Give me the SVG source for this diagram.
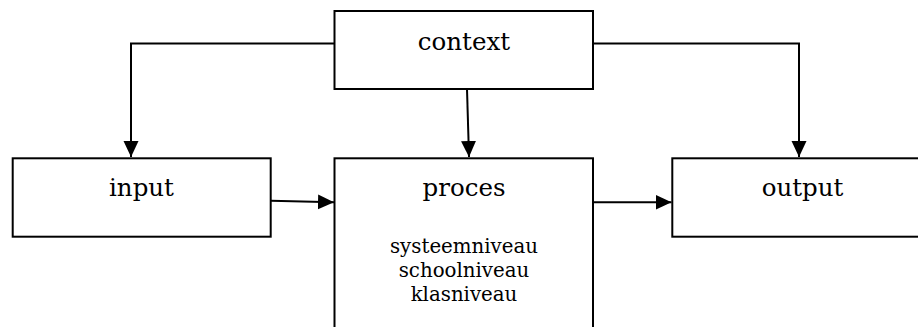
<svg xmlns="http://www.w3.org/2000/svg" width="918" height="327" viewBox="0 0 918 327">
  <style>
    .box { fill: #ffffff; stroke: #000000; stroke-width: 2; }
    .conn { fill: none; stroke: #000000; stroke-width: 2; }
    .lbl { font-family: "DejaVu Serif", "Liberation Serif", serif; font-size: 24.5px; fill: #000000; text-anchor: middle; }
    .sub { font-family: "DejaVu Serif", "Liberation Serif", serif; font-size: 19.8px; fill: #000000; text-anchor: middle; }
  </style>
  <defs>
    <marker id="arrow" markerUnits="userSpaceOnUse" markerWidth="16" markerHeight="16" refX="16" refY="8" orient="auto">
      <path d="M0,0.5 L16,8 L0,15.5 Z" fill="#000000"/>
    </marker>
  </defs>
  <rect width="918" height="327" fill="#ffffff"/>
  <g id="context">
    <rect class="box" x="334.5" y="11" width="258.5" height="78"/>
    <text class="lbl" x="464" y="50">context</text>
  </g>
  <g id="input">
    <rect class="box" x="12.7" y="158.3" width="258" height="78.4"/>
    <text class="lbl" x="141.5" y="195.5">input</text>
  </g>
  <g id="proces">
    <rect class="box" x="334.5" y="158.3" width="258.5" height="200"/>
    <text class="lbl" x="464" y="196">proces</text>
    <text class="sub" x="464" y="253">systeemniveau</text>
    <text class="sub" x="464" y="277">schoolniveau</text>
    <text class="sub" x="464" y="301">klasniveau</text>
  </g>
  <g id="output">
    <rect class="box" x="672.3" y="158.3" width="300" height="78.4"/>
    <text class="lbl" x="802.5" y="196">output</text>
  </g>
  <g id="connectors">
    <path class="conn" d="M334.5,43.5 H131 V157" marker-end="url(#arrow)"/>
    <path class="conn" d="M467,89 L469,157" marker-end="url(#arrow)"/>
    <path class="conn" d="M593,43.5 H799 V157" marker-end="url(#arrow)"/>
    <path class="conn" d="M271,200.7 L334,202.3" marker-end="url(#arrow)"/>
    <path class="conn" d="M593,202.3 H671.5" marker-end="url(#arrow)"/>
  </g>
</svg>
